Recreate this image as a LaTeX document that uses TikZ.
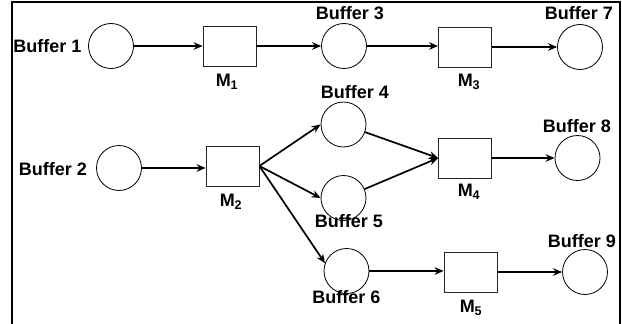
\documentclass[tikz,border=0pt]{standalone}
\usepackage{fontspec}
\setmainfont{Liberation Sans}
\usetikzlibrary{arrows.meta}
\begin{document}
\begin{tikzpicture}[x=1pt,y=-1pt,
  buf/.style={circle,draw,line width=0.8pt,minimum size=45pt,inner sep=0pt},
  mach/.style={rectangle,draw=black!85,line width=0.8pt,minimum width=53pt,minimum height=40pt,inner sep=0pt},
  lbl/.style={font=\fontsize{18}{20}\selectfont\bfseries,inner sep=0pt},
  flow/.style={line width=1.7pt,-{Stealth[length=9pt,width=7.5pt]}}]
\useasboundingbox (0,0) rectangle (622,324);
\draw[line width=2.5pt] (12,324) -- (12,2) -- (620,2) -- (620,324);
% buffers
\node[buf] (b1) at (111,46) {};
\node[buf] (b2) at (119,168) {};
\node[buf] (b3) at (344,46) {};
\node[buf] (b4) at (343.5,124.5) {};
\node[buf] (b5) at (343.5,198) {};
\node[buf] (b6) at (346.5,271) {};
\node[buf] (b7) at (580,47) {};
\node[buf] (b8) at (577.5,158) {};
\node[buf] (b9) at (585,272) {};
% machines
\node[mach] (m1) at (229.5,46) {};
\node[mach] (m2) at (232.5,166) {};
\node[mach] (m3) at (465,47) {};
\node[mach] (m4) at (465,158) {};
\node[mach] (m5) at (470.5,272) {};
% labels
\node[lbl] (lb1) at (47.5,46) {Buffer 1};
\node[lbl] (lb2) at (53,169) {Buffer 2};
\node[lbl] (lb3) at (350,13.5) {Buffer 3};
\node[lbl] (lb4) at (355,92) {Buffer 4};
\node[lbl] (lb5) at (349,221.5) {Buffer 5};
\node[lbl] (lb6) at (346.5,297.5) {Buffer 6};
\node[lbl] (lb7) at (579,13.5) {Buffer 7};
\node[lbl] (lb8) at (577,126.5) {Buffer 8};
\node[lbl] (lb9) at (582,241.5) {Buffer 9};
\node[lbl] (lm1) at (227,82) {M\textsubscript{1}};
\node[lbl] (lm2) at (231,202) {M\textsubscript{2}};
\node[lbl] (lm3) at (469,82) {M\textsubscript{3}};
\node[lbl] (lm4) at (469,192) {M\textsubscript{4}};
\node[lbl] (lm5) at (471,308) {M\textsubscript{5}};
% flows
\draw[flow] (b1.east) -- (b1.east -| m1.west);
\draw[flow] (m1.east) -- (m1.east -| b3.west);
\draw[flow] (b3.east) -- (b3.east -| m3.west);
\draw[flow] (m3.east) -- (m3.east -| b7.west);
\draw[flow] (b2.east) -- (b2.east -| m2.west);
\draw[flow] (m2.east) -- (b4.west);
\draw[flow] (m2.east) -- (b5.west);
\draw[flow] (m2.east) -- (b6.160);
\draw[flow] (b4) -- (m4.west);
\draw[flow] (b5) -- (m4.west);
\draw[flow] (m4.east) -- (m4.east -| b8.west);
\draw[flow] (b6.east) -- (b6.east -| m5.west);
\draw[flow] (m5.east) -- (m5.east -| b9.west);
\end{tikzpicture}
\end{document}
